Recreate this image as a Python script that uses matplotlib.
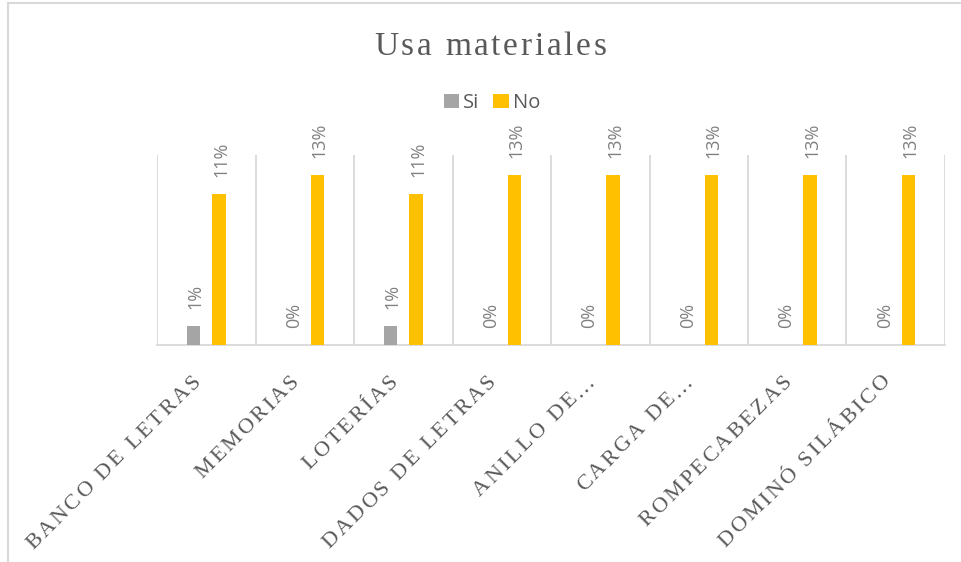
import matplotlib
matplotlib.use("Agg")
import matplotlib.pyplot as plt
from matplotlib.font_manager import FontProperties
from matplotlib.transforms import IdentityTransform
from matplotlib.lines import Line2D
import numpy as np

# Chart data (percent of answers)
categories = ["BANCO DE LETRAS", "MEMORIAS", "LOTERÍAS", "DADOS DE LETRAS",
              "ANILLO DE…", "CARGA DE…", "ROMPECABEZAS", "DOMINÓ SILÁBICO"]
series_names = ["Si", "No"]
si = [1.39, 0, 1.39, 0, 0, 0, 0, 0]
no = [11.1, 12.5, 11.1, 12.5, 12.5, 12.5, 12.5, 12.5]

title = "Usa materiales"

GRAY = "#a5a5a5"
GOLD = "#ffc000"
TEXT = "#595959"
LINE = "#d9d9d9"

W, H = 961, 562


def pct(v):
    # excel style rounding (half up)
    return "%d%%" % int(v + 0.5)


def char_advance(renderer, ch, prop):
    w0, _, _ = renderer.get_text_width_height_descent("HH", prop, ismath=False)
    w1, _, _ = renderer.get_text_width_height_descent("H" + ch + "H", prop, ismath=False)
    return w1 - w0


def spaced_text(fig, renderer, s, x, y, angle, spacing, prop, color, align="right"):
    # draws text one character at a time so the letters can be spread out
    adv = [char_advance(renderer, ch, prop) for ch in s]
    total = sum(adv) + spacing * (len(s) - 1)
    d = np.array([np.cos(np.radians(angle)), np.sin(np.radians(angle))])
    if align == "right":
        start = np.array([x, y]) - total * d
    else:
        start = np.array([x, y]) - total / 2 * d
    pos = 0.0
    for ch, a in zip(s, adv):
        px, py = start + pos * d
        fig.text(px, py, ch, transform=IdentityTransform(), rotation=angle,
                 rotation_mode="anchor", ha="left", va="baseline",
                 fontproperties=prop, color=color)
        pos += a + spacing


fig = plt.figure(figsize=(W / 100, H / 100), dpi=100)
renderer = fig.canvas.get_renderer()

# plot area
ax = fig.add_axes([157 / W, 1 - 345 / H, 788 / W, 190 / H])
x = np.arange(len(categories))
bw = 0.135
b_si = ax.bar(x - 0.129, si, bw, color=GRAY, label=series_names[0], zorder=3)
b_no = ax.bar(x + 0.129, no, bw, color=GOLD, label=series_names[1], zorder=3)

ax.set_xlim(-0.5, len(categories) - 0.5)
ax.set_ylim(0, 14)
for edge in np.arange(len(categories) + 1) - 0.5:
    ax.axvline(edge, color=LINE, lw=1.3, zorder=1)
for sp in ["top", "right", "left"]:
    ax.spines[sp].set_visible(False)
ax.spines["bottom"].set_color(LINE)
ax.spines["bottom"].set_linewidth(1.3)
ax.set_xticks([])
ax.set_yticks([])

# data labels
label_font = FontProperties(family="Open Sans", size=13)
for bars in (b_si, b_no):
    for rect in bars:
        v = rect.get_height()
        ax.annotate(pct(v), (rect.get_x() + rect.get_width() / 2, v),
                    xytext=(2, 17), textcoords="offset pixels", rotation=90,
                    ha="center", va="bottom", fontproperties=label_font,
                    color="#808080")

# category labels, rotated and spread out
cat_font = FontProperties(family="Liberation Serif", size=16)
for i, name in enumerate(categories):
    cx = ax.transData.transform((i, 0))[0]
    spaced_text(fig, renderer, name, cx - 5, H - 382, 45, 2.5, cat_font, TEXT)

# title
title_font = FontProperties(family="Liberation Serif", size=24)
spaced_text(fig, renderer, title, 490, H - 55, 0, 2.7, title_font, TEXT,
            align="center")

# legend
fig.legend(handles=[b_si, b_no], labels=series_names, loc="center",
           bbox_to_anchor=(492 / W, 1 - 103 / H), ncol=2, frameon=False,
           prop=FontProperties(family="Open Sans", size=14.5),
           handlelength=0.75, handleheight=0.75, handletextpad=0.2,
           columnspacing=0.7, labelcolor=TEXT)

# chart border (left and top edges)
fig.add_artist(Line2D([8 / W, 8 / W], [0, 1 - 3 / H], color=LINE, lw=1.5))
fig.add_artist(Line2D([8 / W, 1], [1 - 3 / H, 1 - 3 / H], color=LINE, lw=1.5))

fig.savefig("out.png", dpi=100)
